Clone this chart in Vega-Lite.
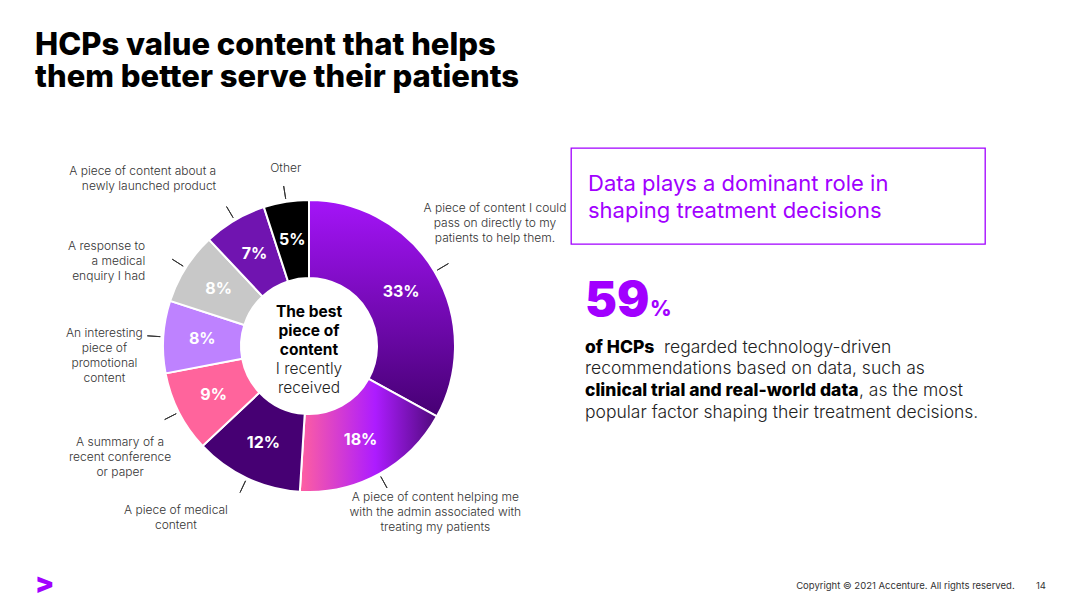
{
  "$schema": "https://vega.github.io/schema/vega-lite/v6.json",
  "background": "white",
  "padding": {"left": 35, "top": 29, "right": 0, "bottom": 0},
  "title": {
    "text": ["HCPs value content that helps", "them better serve their patients"],
    "anchor": "start",
    "frame": "group",
    "font": "Inter",
    "fontSize": 31,
    "fontWeight": 800,
    "color": "#000000",
    "lineHeight": 32,
    "offset": 5,
    "dx": -12
  },
  "bounds": "flush",
  "spacing": 0,
  "datasets": {
    "slices": [
      {"rank": 1, "value": 33, "label": "33%", "note": "A piece of content I could\npass on directly to my\npatients to help them."},
      {"rank": 2, "value": 18, "label": "18%", "note": "A piece of content helping me\nwith the admin associated with\ntreating my patients"},
      {"rank": 3, "value": 12, "label": "12%", "note": "A piece of medical\ncontent"},
      {"rank": 4, "value": 9, "label": "9%", "note": "A summary of a\nrecent conference\nor paper"},
      {"rank": 5, "value": 8, "label": "8%", "note": "An interesting\npiece of\npromotional\ncontent"},
      {"rank": 6, "value": 8, "label": "8%", "note": "A response to\na medical\nenquiry I had"},
      {"rank": 7, "value": 7, "label": "7%", "note": "A piece of content about a\nnewly launched product"},
      {"rank": 8, "value": 5, "label": "5%", "note": "Other"}
    ]
  },
  "hconcat": [
    {
      "width": 524,
      "height": 396,
      "data": {"name": "slices"},
      "title": {"text": ">", "orient": "bottom", "anchor": "start", "frame": "group", "font": "Inter", "fontSize": 28, "fontWeight": 900, "color": "#a100ff", "offset": 18, "dx": -12},
      "layer": [
        {
          "mark": {"type": "arc", "innerRadius": 68, "outerRadius": 146, "stroke": "#ffffff", "strokeWidth": 2},
          "encoding": {
            "theta": {"field": "value", "type": "quantitative", "stack": true},
            "order": {"field": "rank", "type": "quantitative"},
            "color": {
              "condition": [
                {"test": "datum.rank === 1", "value": {"gradient": "linear", "x1": 0, "y1": 0, "x2": 0, "y2": 1, "stops": [{"offset": 0, "color": "#a414f8"}, {"offset": 1, "color": "#460073"}]}},
                {"test": "datum.rank === 2", "value": {"gradient": "linear", "x1": 0, "y1": 0, "x2": 1, "y2": 0, "stops": [{"offset": 0, "color": "#ff5fa0"}, {"offset": 0.55, "color": "#ad1cff"}, {"offset": 1, "color": "#4e0a7a"}]}}
              ],
              "field": "rank",
              "type": "nominal",
              "scale": {"domain": [1, 2, 3, 4, 5, 6, 7, 8], "range": ["#a414f8", "#ad1cff", "#460073", "#ff649c", "#be82ff", "#c8c8c8", "#7014b0", "#000000"]},
              "legend": null
            }
          }
        },
        {
          "mark": {"type": "arc", "innerRadius": 149, "outerRadius": 162, "padAngle": 3.14, "filled": false, "stroke": "#333333", "strokeWidth": 1},
          "encoding": {
            "theta": {"field": "value", "type": "quantitative", "stack": true},
            "order": {"field": "rank", "type": "quantitative"},
            "detail": {"field": "rank", "type": "nominal"}
          }
        },
        {
          "mark": {"type": "text", "radius": 107, "font": "Inter", "fontSize": 16, "fontWeight": "bold", "color": "#ffffff"},
          "encoding": {
            "theta": {"field": "value", "type": "quantitative", "stack": true},
            "order": {"field": "rank", "type": "quantitative"},
            "detail": {"field": "rank", "type": "nominal"},
            "text": {"field": "label", "type": "nominal"}
          }
        },
        {
          "mark": {"type": "text", "radius": 216, "dy": -28, "lineBreak": "\n", "lineHeight": 15, "font": "Inter", "fontSize": 12, "fontWeight": 300, "color": "#333333"},
          "encoding": {
            "theta": {"field": "value", "type": "quantitative", "stack": true},
            "order": {"field": "rank", "type": "quantitative"},
            "detail": {"field": "rank", "type": "nominal"},
            "text": {"condition": {"test": "datum.rank === 1", "field": "note", "type": "nominal"}, "value": ""}
          }
        },
        {
          "mark": {"type": "text", "radius": 200, "dx": 30, "dy": -24, "lineBreak": "\n", "lineHeight": 15, "font": "Inter", "fontSize": 12, "fontWeight": 300, "color": "#333333"},
          "encoding": {
            "theta": {"field": "value", "type": "quantitative", "stack": true},
            "order": {"field": "rank", "type": "quantitative"},
            "detail": {"field": "rank", "type": "nominal"},
            "text": {"condition": {"test": "datum.rank === 2", "field": "note", "type": "nominal"}, "value": ""}
          }
        },
        {
          "mark": {"type": "text", "radius": 195, "dx": -50, "dy": -12, "lineBreak": "\n", "lineHeight": 15, "font": "Inter", "fontSize": 12, "fontWeight": 300, "color": "#333333"},
          "encoding": {
            "theta": {"field": "value", "type": "quantitative", "stack": true},
            "order": {"field": "rank", "type": "quantitative"},
            "detail": {"field": "rank", "type": "nominal"},
            "text": {"condition": {"test": "datum.rank === 3", "field": "note", "type": "nominal"}, "value": ""}
          }
        },
        {
          "mark": {"type": "text", "radius": 212, "lineBreak": "\n", "lineHeight": 15, "font": "Inter", "fontSize": 12, "fontWeight": 300, "color": "#333333"},
          "encoding": {
            "theta": {"field": "value", "type": "quantitative", "stack": true},
            "order": {"field": "rank", "type": "quantitative"},
            "detail": {"field": "rank", "type": "nominal"},
            "text": {"condition": {"test": "datum.rank === 4", "field": "note", "type": "nominal"}, "value": ""}
          }
        },
        {
          "mark": {"type": "text", "radius": 205, "lineBreak": "\n", "lineHeight": 15, "font": "Inter", "fontSize": 12, "fontWeight": 300, "color": "#333333"},
          "encoding": {
            "theta": {"field": "value", "type": "quantitative", "stack": true},
            "order": {"field": "rank", "type": "quantitative"},
            "detail": {"field": "rank", "type": "nominal"},
            "text": {"condition": {"test": "datum.rank === 5", "field": "note", "type": "nominal"}, "value": ""}
          }
        },
        {
          "mark": {"type": "text", "radius": 194, "dy": 4, "align": "right", "lineBreak": "\n", "lineHeight": 15, "font": "Inter", "fontSize": 12, "fontWeight": 300, "color": "#333333"},
          "encoding": {
            "theta": {"field": "value", "type": "quantitative", "stack": true},
            "order": {"field": "rank", "type": "quantitative"},
            "detail": {"field": "rank", "type": "nominal"},
            "text": {"condition": {"test": "datum.rank === 6", "field": "note", "type": "nominal"}, "value": ""}
          }
        },
        {
          "mark": {"type": "text", "radius": 200, "dx": 9, "dy": -3, "align": "right", "lineBreak": "\n", "lineHeight": 15, "font": "Inter", "fontSize": 12, "fontWeight": 300, "color": "#333333"},
          "encoding": {
            "theta": {"field": "value", "type": "quantitative", "stack": true},
            "order": {"field": "rank", "type": "quantitative"},
            "detail": {"field": "rank", "type": "nominal"},
            "text": {"condition": {"test": "datum.rank === 7", "field": "note", "type": "nominal"}, "value": ""}
          }
        },
        {
          "mark": {"type": "text", "radius": 200, "dx": 8, "dy": 20, "lineBreak": "\n", "lineHeight": 15, "font": "Inter", "fontSize": 12, "fontWeight": 300, "color": "#333333"},
          "encoding": {
            "theta": {"field": "value", "type": "quantitative", "stack": true},
            "order": {"field": "rank", "type": "quantitative"},
            "detail": {"field": "rank", "type": "nominal"},
            "text": {"condition": {"test": "datum.rank === 8", "field": "note", "type": "nominal"}, "value": ""}
          }
        },
        {
          "data": {"values": [{"t": "The best\npiece of\ncontent"}]},
          "mark": {"type": "text", "lineBreak": "\n", "lineHeight": 19, "font": "Inter", "fontSize": 15.5, "fontWeight": "bold", "color": "#000000", "dy": -34},
          "encoding": {"text": {"field": "t", "type": "nominal"}}
        },
        {
          "data": {"values": [{"t": "I recently\nreceived"}]},
          "mark": {"type": "text", "lineBreak": "\n", "lineHeight": 19, "font": "Inter", "fontSize": 15.5, "fontWeight": 300, "color": "#222222", "dy": 23},
          "encoding": {"text": {"field": "t", "type": "nominal"}}
        }
      ]
    },
    {
      "bounds": "flush",
      "spacing": 0,
      "vconcat": [
        {
          "width": 414,
          "height": 96,
          "view": {"stroke": "#a100ff", "strokeWidth": 1.3},
          "data": {"values": [{"t": "Data plays a dominant role in\nshaping treatment decisions"}]},
          "mark": {"type": "text", "align": "left", "baseline": "alphabetic", "x": 17, "y": 42.5, "lineBreak": "\n", "lineHeight": 27, "font": "Inter", "fontSize": 22, "fontWeight": 400, "color": "#a100ff"},
          "encoding": {"text": {"field": "t", "type": "nominal"}}
        },
        {
          "width": 414,
          "height": 300,
          "title": {"text": "Copyright © 2021 Accenture. All rights reserved.\u00a0\u00a0\u00a0\u00a0\u00a0\u00a0\u00a0\u00a014", "orient": "bottom", "anchor": "end", "frame": "group", "font": "Inter", "fontSize": 9.5, "fontWeight": 400, "color": "#333333", "dx": 61, "offset": 37},
          "layer": [
            {"data": {"values": [{"t": "59"}]}, "mark": {"type": "text", "align": "left", "baseline": "alphabetic", "x": 14, "y": 72, "font": "Inter", "fontSize": 48, "fontWeight": 900, "color": "#a100ff"}, "encoding": {"text": {"field": "t", "type": "nominal"}}},
            {"data": {"values": [{"t": "%"}]}, "mark": {"type": "text", "align": "left", "baseline": "alphabetic", "x": 79, "y": 72, "font": "Inter", "fontSize": 21, "fontWeight": 800, "color": "#a100ff"}, "encoding": {"text": {"field": "t", "type": "nominal"}}},
            {"data": {"values": [{"t": "of HCPs"}]}, "mark": {"type": "text", "align": "left", "baseline": "alphabetic", "x": 14, "y": 108.7, "font": "Inter", "fontSize": 17.5, "fontWeight": 800, "color": "#000000"}, "encoding": {"text": {"field": "t", "type": "nominal"}}},
            {"data": {"values": [{"t": "regarded technology-driven"}]}, "mark": {"type": "text", "align": "left", "baseline": "alphabetic", "x": 93, "y": 108.7, "font": "Inter", "fontSize": 17.5, "fontWeight": 300, "color": "#222222"}, "encoding": {"text": {"field": "t", "type": "nominal"}}},
            {"data": {"values": [{"t": "recommendations based on data, such as"}]}, "mark": {"type": "text", "align": "left", "baseline": "alphabetic", "x": 14, "y": 130.4, "font": "Inter", "fontSize": 17.5, "fontWeight": 300, "color": "#222222"}, "encoding": {"text": {"field": "t", "type": "nominal"}}},
            {"data": {"values": [{"t": "clinical trial and real-world data"}]}, "mark": {"type": "text", "align": "left", "baseline": "alphabetic", "x": 14, "y": 152, "font": "Inter", "fontSize": 17.5, "fontWeight": 800, "color": "#000000"}, "encoding": {"text": {"field": "t", "type": "nominal"}}},
            {"data": {"values": [{"t": ", as the most"}]}, "mark": {"type": "text", "align": "left", "baseline": "alphabetic", "x": 288, "y": 152, "font": "Inter", "fontSize": 17.5, "fontWeight": 300, "color": "#222222"}, "encoding": {"text": {"field": "t", "type": "nominal"}}},
            {"data": {"values": [{"t": "popular factor shaping their treatment decisions."}]}, "mark": {"type": "text", "align": "left", "baseline": "alphabetic", "x": 14, "y": 173.7, "font": "Inter", "fontSize": 17.5, "fontWeight": 300, "color": "#222222"}, "encoding": {"text": {"field": "t", "type": "nominal"}}}
          ]
        }
      ]
    }
  ],
  "config": {
    "view": {"stroke": null},
    "font": "Inter"
  }
}
